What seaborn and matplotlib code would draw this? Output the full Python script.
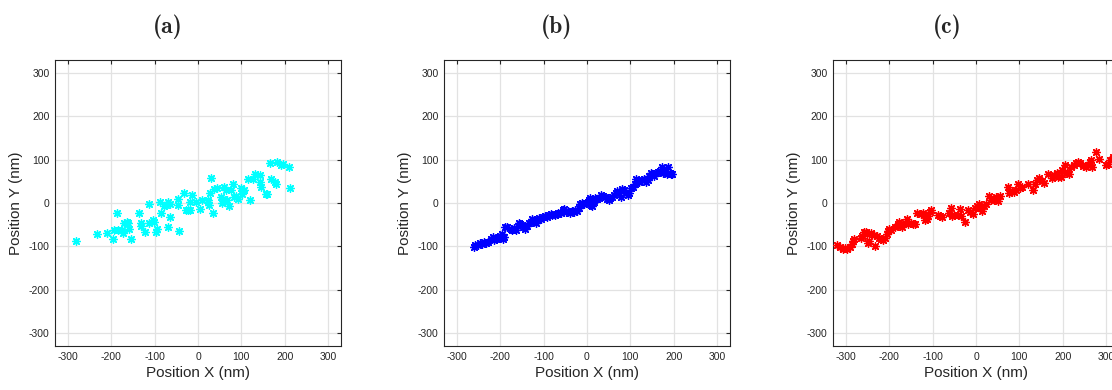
import os
import matplotlib
matplotlib.use("Agg")
import matplotlib.pyplot as plt
from matplotlib import font_manager
import seaborn as sns

# ---- trajectory data (nm) ----
# (a) scattered localisations
xa = [-281, -233, -210, -196, -195, -185, -187, -175, -172, -171, -165, -162, -160, -154,
      -136, -132, -132, -122, -112, -112, -105, -102, -98, -95, -88, -85, -78, -75, -69, -65,
      -69, -64, -46, -46, -45, -32, -28, -22, -19, -18, -13, -5, 4, 9, 23, 25, 24, 28, 29,
      35, 38, 44, 54, 56, 58, 59, 62, 65, 68, 72, 75, 81, 83, 87, 93, 100, 102, 104, 106,
      115, 121, 127, 131, 142, 144, 146, 156, 159, 165, 168, 177, 179, 182, 192, 195, 210, 212]
ya = [-88, -71, -69, -83, -63, -63, -24, -63, -69, -45, -43, -47, -61, -82,
      -24, -45, -53, -66, -2, -47, -39, -44, -66, -61, 3, -23, -8, -5, 3, -2,
      -55, -32, 9, -5, -65, 22, -16, -15, -15, 3, 19, 3, -13, 8, 8, -5, 2, 22, 57,
      -22, 32, 34, 15, 1, 10, 37, 4, 30, 7, -7, 29, 45, 15, 17, 9, 35, 21, 27, 31,
      56, 8, 55, 67, 49, 64, 36, 21, 20, 92, 55, 48, 43, 95, 88, 90, 82, 34]

# (b) tracked particle, low noise
xb = [-261, -258, -252, -246, -243, -238, -233, -229, -222, -218, -215, -211, -207, -200,
      -196, -194, -191, -189, -184, -176, -172, -168, -164, -160, -157, -154, -149, -146,
      -143, -139, -135, -130, -127, -122, -118, -114, -110, -106, -101, -97, -93, -88, -84,
      -80, -75, -70, -66, -61, -56, -53, -49, -44, -40, -35, -31, -27, -23, -19, -17, -12,
      -7, -3, 2, 5, 8, 10, 12, 15, 18, 22, 28, 33, 38, 42, 46, 50, 53, 57, 62, 66, 70, 74,
      78, 81, 85, 90, 94, 97, 101, 105, 110, 113, 117, 121, 126, 131, 136, 140, 144, 147,
      151, 155, 159, 163, 168, 172, 176, 180, 184, 188, 191, 194, 197]
yb = [-101, -98, -96, -93, -95, -91, -92, -90, -83, -79, -86, -84, -80, -75,
      -72, -82, -79, -56, -55, -60, -62, -58, -63, -52, -45, -48, -50, -56,
      -59, -52, -47, -43, -37, -40, -47, -40, -34, -36, -32, -31, -33, -28, -25,
      -27, -28, -25, -23, -22, -17, -14, -20, -19, -22, -18, -20, -16, -19, -12, -2, 0,
      -3, -1, 2, 8, 12, -5, -8, 3, 12, 9, 11, 18, 17, 14, 10, 7, 12, 15, 19, 23, 27, 22,
      13, 32, 30, 24, 18, 22, 35, 38, 45, 55, 50, 48, 52, 55, 48, 54, 62, 70,
      66, 62, 69, 72, 74, 84, 70, 71, 68, 84, 70, 68, 66]

# (c) tracked particle, higher noise
xc = [-320, -314, -308, -302, -298, -290, -287, -285, -282, -266, -262, -258, -255, -252,
      -250, -246, -242, -236, -232, -228, -224, -219, -214, -209, -206, -203, -200, -197,
      -186, -181, -178, -175, -170, -164, -160, -156, -150, -145, -140, -137, -128, -122,
      -117, -113, -110, -107, -104, -88, -83, -78, -62, -58, -55, -50, -42, -38, -35, -25,
      -18, -13, -8, -3, 2, 6, 10, 14, 19, 24, 30, 35, 42, 46, 51, 55, 73, 77, 82, 88, 93,
      96, 101, 105, 120, 132, 137, 141, 146, 152, 158, 165, 176, 181, 186, 190, 196, 199,
      206, 210, 214, 220, 225, 230, 236, 241, 247, 253, 258, 262, 266, 268, 278, 284, 300,
      304, 309, 316]
yc = [-97, -101, -106, -104, -106, -101, -95, -88, -84, -80, -76, -68, -66, -72,
      -92, -88, -70, -74, -99, -76, -80, -84, -86, -80, -72, -65, -60, -62,
      -55, -48, -44, -52, -55, -45, -36, -48, -47, -48, -48, -24, -25, -24,
      -40, -38, -30, -20, -15, -27, -30, -32, -24, -12, -30, -27, -28, -14, -30, -43,
      -16, -20, -25, -12, -6, -2, -12, -18, -8, -2, 16, 6, 7, 13, 5, 16, 36, 24, 27, 25, 30,
      44, 34, 37, 43, 30, 44, 54, 57, 50, 46, 67, 57, 64, 70, 60, 61, 76,
      88, 70, 66, 84, 88, 93, 95, 92, 85, 82, 88, 95, 100, 84, 117, 102, 88,
      90, 99, 106]

panels = [("(a)", xa, ya, (0.0, 1.0, 1.0)),
          ("(b)", xb, yb, (0.0, 0.0, 1.0)),
          ("(c)", xc, yc, (1.0, 0.0, 0.0))]
tick_vals = [-300, -200, -100, 0, 100, 200, 300]

sns.set_theme(style="white")
plt.rcParams["font.family"] = ["Liberation Sans", "DejaVu Sans"]
plt.rcParams["axes.unicode_minus"] = False

# Computer Modern bold for the panel letters
cm_bold_path = os.path.join(matplotlib.get_data_path(), "fonts", "ttf", "cmb10.ttf")
title_font = font_manager.FontProperties(fname=cm_bold_path, size=17)

W, H = 1112, 390
fig = plt.figure(figsize=(W / 100, H / 100), dpi=100)
lefts = [55, 444, 833]
title_x = [168, 557, 947]
asterisk = (8, 2, 0)

for (name, xs, ys, col), left, tx in zip(panels, lefts, title_x):
    ax = fig.add_axes([left / W, 44 / H, 286 / W, 286 / H])
    sns.scatterplot(x=xs, y=ys, marker=asterisk, color=col, s=30,
                    linewidth=1.0, ax=ax, legend=False, zorder=3)
    ax.set_xlim(-330, 330)
    ax.set_ylim(-330, 330)
    ax.set_xticks(tick_vals)
    ax.set_yticks(tick_vals)
    ax.grid(True, color="#e2e2e2", linewidth=0.9)
    ax.set_axisbelow(True)
    ax.tick_params(direction="in", length=3, width=0.8, top=True, right=True,
                   labelsize=7.5, labelcolor="#262626", color="#262626", pad=4)
    for sp in ax.spines.values():
        sp.set_color("#262626")
        sp.set_linewidth(0.8)
        sp.set_visible(True)
    ax.set_xlabel("Position X (nm)", fontsize=11, color="#262626", labelpad=3)
    ax.set_ylabel("Position Y (nm)", fontsize=11, color="#262626", labelpad=4)
    fig.text(tx / W, 1 - 27 / H, name, fontproperties=title_font,
             ha="center", va="center")

fig.savefig("out.png", dpi=100)
